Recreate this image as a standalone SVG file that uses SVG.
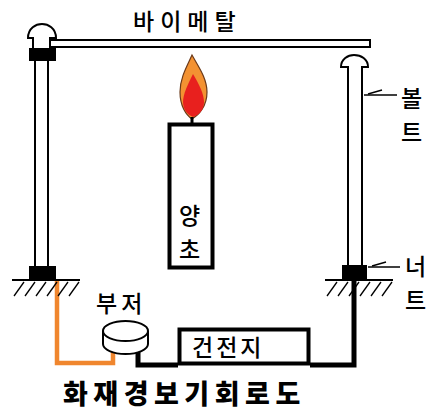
<svg xmlns="http://www.w3.org/2000/svg" width="434" height="411" viewBox="0 0 434 411">
  <style>
    .part { fill: #fff; stroke: #000; stroke-width: 2; }
    .nut { fill: #000; }
    .hatch { stroke: #000; stroke-width: 1.3; }
    .lbl { font-family: "Noto Sans CJK KR", "Noto Sans", sans-serif; font-size: 23px; font-weight: 500; fill: #000; }
    .title { font-family: "Noto Sans CJK KR", "Noto Sans", sans-serif; font-size: 27px; font-weight: 900; fill: #000; letter-spacing: 5.5px; }
  </style>
  <defs>
    <g id="ground">
      <line x1="0" y1="0" x2="68" y2="0" stroke="#000" stroke-width="2"/>
      <line class="hatch" x1="12" y1="2" x2="2" y2="16"/>
      <line class="hatch" x1="23" y1="2" x2="13" y2="16"/>
      <line class="hatch" x1="34" y1="2" x2="24" y2="16"/>
      <line class="hatch" x1="45" y1="2" x2="35" y2="16"/>
      <line class="hatch" x1="56" y1="2" x2="46" y2="16"/>
      <line class="hatch" x1="67" y1="2" x2="57" y2="16"/>
    </g>
  </defs>

  <rect width="434" height="411" fill="#fff"/>

  <!-- connectors: circuit wiring -->
  <g id="connectors">
    <polyline points="57,281 57,363 113,363 113,350" fill="none" stroke="#f0862e" stroke-width="4.5"/>
    <polyline points="138,350 138,365 178,365" fill="none" stroke="#000" stroke-width="5"/>
    <polyline points="310,365 354,365 354,279" fill="none" stroke="#000" stroke-width="5"/>
    <!-- label pointers -->
    <line x1="364" y1="95" x2="397" y2="95" stroke="#000" stroke-width="1.5"/>
    <line x1="368" y1="94" x2="382" y2="90" stroke="#000" stroke-width="1.5"/>
    <line x1="368" y1="267" x2="400" y2="267" stroke="#000" stroke-width="1.5"/>
    <line x1="372" y1="266" x2="386" y2="262" stroke="#000" stroke-width="1.5"/>
  </g>

  <!-- bimetal strip -->
  <g id="bimetal">
    <rect class="part" x="50" y="40" width="320" height="7"/>
    <text class="lbl" x="133" y="30" letter-spacing="6">바이메탈</text>
  </g>

  <!-- left bolt, fixed to the strip -->
  <g id="left-bolt">
    <rect class="part" x="35" y="58" width="13" height="210"/>
    <path class="part" d="M33,49 V38 H28 C28,28 36,24 42,24 C48,24 56,28 56,38 H50 V49 Z"/>
    <rect class="nut" x="29" y="48" width="27" height="13"/>
    <rect class="nut" x="29" y="266" width="27" height="14"/>
    <use href="#ground" x="12" y="280"/>
  </g>

  <!-- right bolt, contact point -->
  <g id="right-bolt">
    <rect class="part" x="348" y="64" width="14" height="204"/>
    <path class="part" d="M348,72 V67 H341 C341,59 348,55 354,55 C361,55 368,59 368,67 H362 V72"/>
    <rect class="nut" x="342" y="265" width="25" height="14"/>
    <use href="#ground" x="325" y="280"/>
    <text class="lbl" x="401" y="107">볼</text>
    <text class="lbl" x="401" y="141">트</text>
    <text class="lbl" x="405" y="275">너</text>
    <text class="lbl" x="405" y="309">트</text>
  </g>

  <!-- candle with flame -->
  <g id="candle">
    <path d="M192,55 C187,66 180,78 180,92 C180,106 186,115 192,119 C199,115 207,106 207,92 C207,78 198,66 192,55 Z" fill="#f39232" stroke="#6b3a1a" stroke-width="1.2"/>
    <path d="M193,74 C188,84 183,94 183,102 C183,110 188,115 193,117 C199,115 204,110 204,102 C204,94 199,84 193,74 Z" fill="#e8201e"/>
    <line x1="192" y1="117" x2="192" y2="123" stroke="#000" stroke-width="3"/>
    <rect x="169.5" y="124.5" width="43" height="143" fill="#fff" stroke="#000" stroke-width="4"/>
    <text class="lbl" x="179" y="224">양</text>
    <text class="lbl" x="179" y="258">초</text>
  </g>

  <!-- buzzer -->
  <g id="buzzer">
    <path class="part" d="M103,331 V344 A22.5,10 0 0 0 148,344 V331"/>
    <ellipse class="part" cx="125.5" cy="331" rx="22.5" ry="10"/>
    <text class="lbl" x="96" y="312" letter-spacing="4">부저</text>
  </g>

  <!-- battery -->
  <g id="battery">
    <rect x="179.5" y="329.5" width="129" height="34" fill="#fff" stroke="#000" stroke-width="4"/>
    <text class="lbl" x="192" y="356" letter-spacing="3">건전지</text>
  </g>

  <text class="title" x="63" y="404">화재경보기회로도</text>
</svg>
